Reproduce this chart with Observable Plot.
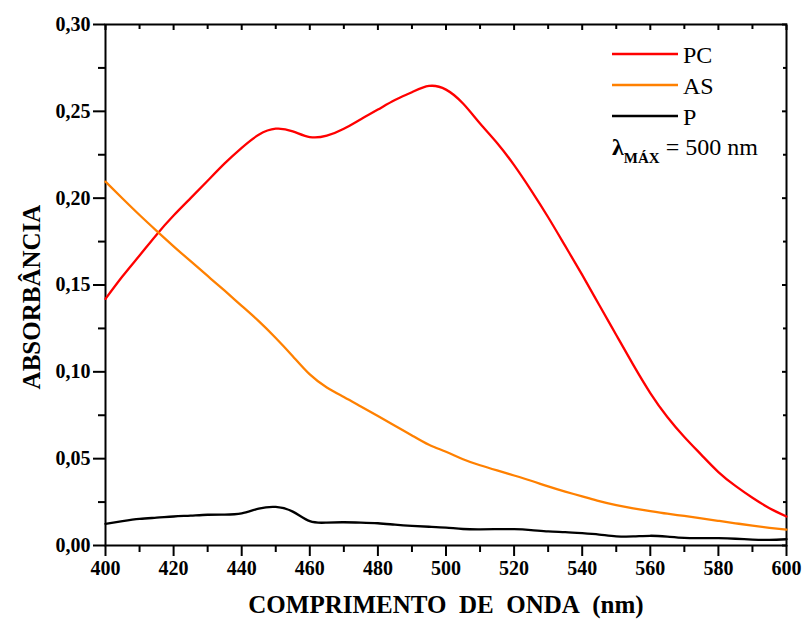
<!DOCTYPE html>
<html><head><meta charset="utf-8">
<script src="https://cdn.jsdelivr.net/npm/d3@7"></script>
<script src="https://cdn.jsdelivr.net/npm/@observablehq/plot@0.6"></script>
<style>
body{margin:0;background:#fff;}
#wrap{position:relative;width:804px;height:619px;}
#legend{position:absolute;left:0;top:0;pointer-events:none;}
svg text, svg tspan{font-family:'Liberation Serif',serif !important;}
</style></head><body><div id="wrap"></div>
<script>
const wavelengths = [400,405,410,415,420,425,430,435,440,445,450,455,460,465,470,475,480,485,490,495,500,505,510,515,520,525,530,535,540,545,550,555,560,565,570,575,580,585,590,595,600];
const pc = [0.142,0.155,0.167,0.179,0.190,0.200,0.210,0.220,0.229,0.2365,0.240,0.2385,0.2352,0.236,0.240,0.2455,0.251,0.2565,0.261,0.2646,0.2625,0.2545,0.2430,0.2318,0.2190,0.2045,0.1890,0.1725,0.1558,0.1385,0.1212,0.1040,0.0878,0.0740,0.0625,0.0522,0.0423,0.0343,0.0275,0.0215,0.0167];
const as = [0.2095,0.1998,0.1903,0.1812,0.1723,0.1637,0.1552,0.1467,0.1380,0.1292,0.1195,0.1090,0.0985,0.0910,0.0855,0.0800,0.0745,0.0690,0.0634,0.0580,0.0540,0.0497,0.0462,0.0432,0.0403,0.0373,0.0340,0.0310,0.0283,0.0255,0.0232,0.0214,0.0198,0.0183,0.0170,0.0156,0.0142,0.0128,0.0114,0.0102,0.0092];
const p = [0.0125,0.014,0.0153,0.016,0.0167,0.0172,0.0177,0.0178,0.0185,0.0212,0.0222,0.0195,0.014,0.0132,0.0134,0.0132,0.0128,0.012,0.0113,0.0108,0.0103,0.0095,0.0093,0.0094,0.0094,0.0089,0.0081,0.0077,0.0071,0.0063,0.0053,0.0052,0.0056,0.0051,0.0044,0.0043,0.0042,0.0039,0.0034,0.0032,0.0036];
const seriesNames = ["PC","AS","P"];
const seriesColors = ["#ff0000","#ff8000","#000000"];
const xMajorTicks = [400,420,440,460,480,500,520,540,560,580,600];
const xMinorTicks = [410,430,450,470,490,510,530,550,570,590];
const yMajorTicks = [0,0.05,0.10,0.15,0.20,0.25,0.30];
const yMinorTicks = [0.025,0.075,0.125,0.175,0.225,0.275];
const xTitle = "COMPRIMENTO\u00a0 DE\u00a0 ONDA\u00a0 (nm)";
const yTitle = "ABSORBÂNCIA";
const lambdaNote = {sym: "λ", sub: "MÁX", rest: " = 500 nm"};

const seriesValues = [pc, as, p];
const data = seriesNames.flatMap((s, k) => wavelengths.map((w, i) => ({w, a: seriesValues[k][i], s})));
const fmt = d => d.toFixed(2).replace(".", ",");
const font = "Liberation Serif";

const chart = Plot.plot({
  width: 804, height: 619,
  marginLeft: 105, marginRight: 18, marginTop: 24, marginBottom: 74,
  style: "font-family: 'Liberation Serif', serif; background: #fff; color: #000;",
  x: {domain: [400, 600]},
  y: {domain: [0, 0.30]},
  color: {domain: seriesNames, range: seriesColors},
  marks: [
    Plot.frame({stroke: "#000", strokeWidth: 2}),
    Plot.axisX(xMajorTicks, {anchor: "bottom", tickSize: 11, tickPadding: 4, tickFormat: d => d, fontSize: 20, fontWeight: "bold", fontFamily: font, strokeWidth: 2, label: null}),
    Plot.axisX(xMinorTicks, {anchor: "bottom", tickSize: 7, text: null, strokeWidth: 2, label: null}),
    Plot.axisX(xMajorTicks, {anchor: "top", tickSize: -5, text: null, strokeWidth: 2, label: null}),
    Plot.axisX(xMinorTicks, {anchor: "top", tickSize: -4, text: null, strokeWidth: 2, label: null}),
    Plot.axisY(yMajorTicks, {anchor: "left", tickSize: 12, tickPadding: 3, tickFormat: fmt, fontSize: 20, fontWeight: "bold", fontFamily: font, strokeWidth: 2, label: null}),
    Plot.axisY(yMinorTicks, {anchor: "left", tickSize: 7, text: null, strokeWidth: 2, label: null}),
    Plot.axisY(yMajorTicks, {anchor: "right", tickSize: -5, text: null, strokeWidth: 2, label: null}),
    Plot.axisY(yMinorTicks, {anchor: "right", tickSize: -4, text: null, strokeWidth: 2, label: null}),
    Plot.text([xTitle], {frameAnchor: "bottom", dy: 67, fontSize: 25, fontWeight: "bold", fontFamily: font, textAnchor: "middle"}),
    Plot.text([yTitle], {frameAnchor: "left", dx: -74, dy: 12, rotate: -90, fontSize: 25, fontWeight: "bold", fontFamily: font, textAnchor: "middle"}),
    Plot.line(data, {x: "w", y: "a", z: "s", stroke: "s", strokeWidth: 2.3, curve: "natural"})
  ]
});
document.getElementById("wrap").appendChild(chart);

// legend overlay
const ns = "http://www.w3.org/2000/svg";
const leg = document.createElementNS(ns, "svg");
leg.setAttribute("id", "legend");
leg.setAttribute("width", 804); leg.setAttribute("height", 619);
const rowsY = [54, 85, 116];
seriesNames.forEach((name, i) => {
  const ln = document.createElementNS(ns, "line");
  ln.setAttribute("x1", 612); ln.setAttribute("x2", 678);
  ln.setAttribute("y1", rowsY[i]); ln.setAttribute("y2", rowsY[i]);
  ln.setAttribute("stroke", seriesColors[i]); ln.setAttribute("stroke-width", 2.3);
  leg.appendChild(ln);
  const t = document.createElementNS(ns, "text");
  t.setAttribute("x", 683); t.setAttribute("y", rowsY[i] + 9);
  t.setAttribute("font-size", 24);
  t.setAttribute("font-family", font);
  t.textContent = name;
  leg.appendChild(t);
});
const lt = document.createElementNS(ns, "text");
lt.setAttribute("x", 612); lt.setAttribute("y", 155);
lt.setAttribute("font-size", 24);
lt.setAttribute("font-family", font);
const s1 = document.createElementNS(ns, "tspan"); s1.setAttribute("font-weight", "bold"); s1.textContent = lambdaNote.sym;
const s2 = document.createElementNS(ns, "tspan"); s2.setAttribute("font-weight", "bold"); s2.setAttribute("font-size", 15); s2.setAttribute("dy", 8); s2.textContent = lambdaNote.sub;
const s3 = document.createElementNS(ns, "tspan"); s3.setAttribute("dy", -8); s3.textContent = lambdaNote.rest;
lt.appendChild(s1); lt.appendChild(s2); lt.appendChild(s3);
leg.appendChild(lt);
document.getElementById("wrap").appendChild(leg);
</script></body></html>
